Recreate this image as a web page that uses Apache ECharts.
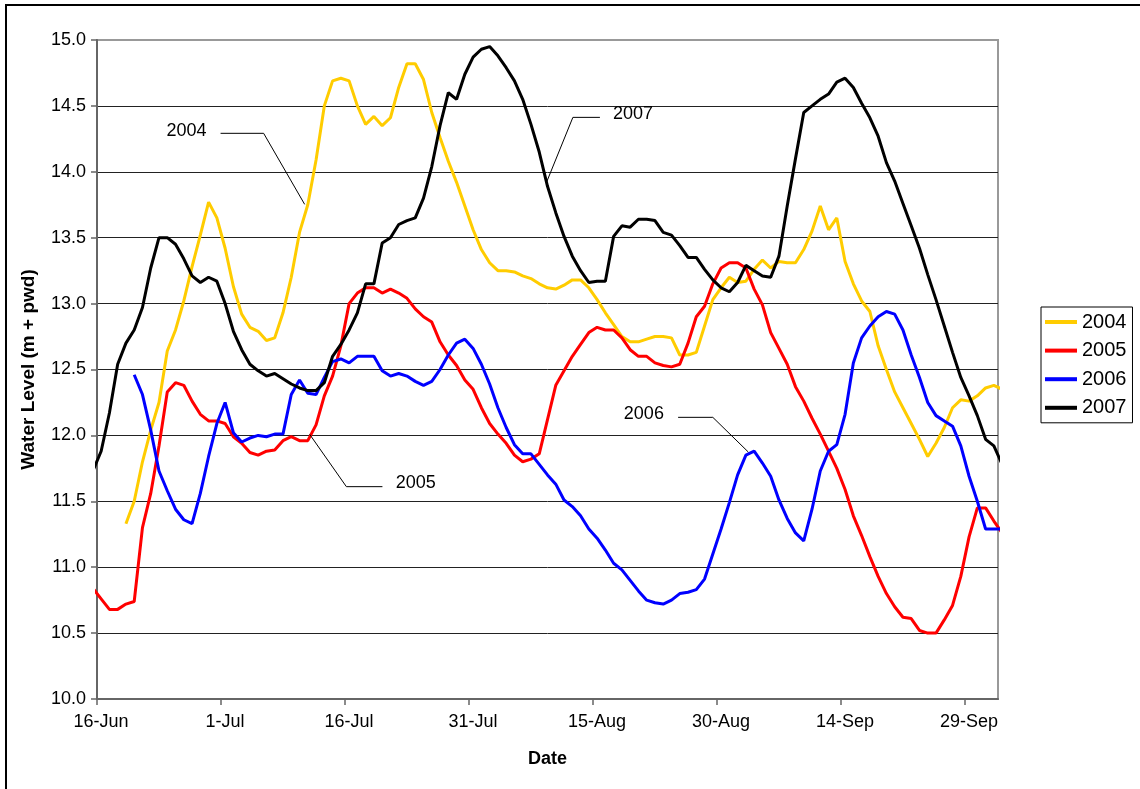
<!DOCTYPE html>
<html>
<head>
<meta charset="utf-8">
<title>Water Level 2004-2007</title>
<script src="https://cdn.jsdelivr.net/npm/echarts@6/dist/echarts.min.js"></script>
<style>
  html, body { margin: 0; padding: 0; background: #fff; }
  #chart { width: 1140px; height: 789px; }
</style>
</head>
<body>
<div id="chart"></div>
<script>
// Daily water levels (m + pwd). Index 0 is the reading of 15-Jun; readings are plotted at midday.
const firstDay = -1;            // 15-Jun, one day before the axis start (16-Jun = day 0)
const axisDays = 109;           // 16-Jun .. 3-Oct
const tickLabels = ['16-Jun', '1-Jul', '16-Jul', '31-Jul', '15-Aug', '30-Aug', '14-Sep', '29-Sep'];
const years = ['2004', '2005', '2006', '2007'];
const colors = ['#FFCC00', '#FF0000', '#0000FF', '#000000'];

const level2004 = [
  null, null, null, null, 11.33, 11.50, 11.80, 12.04, 12.25, 12.64,
  12.80, 13.02, 13.28, 13.52, 13.77, 13.65, 13.42, 13.13, 12.92, 12.82,
  12.79, 12.72, 12.74, 12.93, 13.20, 13.54, 13.75, 14.09, 14.50, 14.69,
  14.71, 14.69, 14.50, 14.36, 14.42, 14.35, 14.41, 14.64, 14.82, 14.82,
  14.70, 14.45, 14.26, 14.08, 13.92, 13.74, 13.56, 13.41, 13.31, 13.25,
  13.25, 13.24, 13.21, 13.19, 13.15, 13.12, 13.11, 13.14, 13.18, 13.18,
  13.12, 13.03, 12.93, 12.84, 12.75, 12.71, 12.71, 12.73, 12.75, 12.75,
  12.74, 12.61, 12.61, 12.63, 12.83, 13.03, 13.12, 13.20, 13.16, 13.17,
  13.26, 13.33, 13.27, 13.32, 13.31, 13.31, 13.41, 13.55, 13.74, 13.56,
  13.65, 13.32, 13.15, 13.02, 12.94, 12.68, 12.50, 12.33, 12.21, 12.09,
  11.97, 11.84, 11.94, 12.06, 12.21, 12.27, 12.26, 12.30, 12.36, 12.38,
  12.35
];

const level2005 = [
  10.84, 10.76, 10.68, 10.68, 10.72, 10.74, 11.30, 11.56, 11.92, 12.33,
  12.40, 12.38, 12.26, 12.16, 12.11, 12.11, 12.09, 11.99, 11.94, 11.87,
  11.85, 11.88, 11.89, 11.96, 11.99, 11.96, 11.96, 12.08, 12.30, 12.45,
  12.68, 13.00, 13.08, 13.12, 13.12, 13.08, 13.11, 13.08, 13.04, 12.96,
  12.90, 12.86, 12.71, 12.61, 12.53, 12.42, 12.35, 12.21, 12.09, 12.01,
  11.94, 11.85, 11.80, 11.82, 11.86, 12.12, 12.38, 12.49, 12.60, 12.69,
  12.78, 12.82, 12.80, 12.80, 12.74, 12.65, 12.60, 12.60, 12.55, 12.53,
  12.52, 12.54, 12.70, 12.90, 12.98, 13.15, 13.27, 13.31, 13.31, 13.27,
  13.11, 12.99, 12.78, 12.66, 12.54, 12.37, 12.26, 12.13, 12.01, 11.88,
  11.75, 11.59, 11.39, 11.24, 11.08, 10.93, 10.80, 10.70, 10.62, 10.61,
  10.52, 10.50, 10.50, 10.60, 10.71, 10.93, 11.23, 11.45, 11.45, 11.35,
  11.26
];

const level2006 = [
  null, null, null, null, null, 12.46, 12.31, 12.04, 11.73, 11.58,
  11.44, 11.36, 11.33, 11.56, 11.84, 12.09, 12.25, 12.02, 11.95, 11.98,
  12.00, 11.99, 12.01, 12.01, 12.31, 12.42, 12.32, 12.31, 12.44, 12.56,
  12.58, 12.55, 12.60, 12.60, 12.60, 12.49, 12.45, 12.47, 12.45, 12.41,
  12.38, 12.41, 12.50, 12.61, 12.70, 12.73, 12.66, 12.54, 12.39, 12.21,
  12.06, 11.93, 11.86, 11.86, 11.78, 11.70, 11.63, 11.51, 11.46, 11.39,
  11.29, 11.22, 11.13, 11.03, 10.98, 10.90, 10.82, 10.75, 10.73, 10.72,
  10.75, 10.80, 10.81, 10.83, 10.91, 11.10, 11.29, 11.49, 11.70, 11.85,
  11.88, 11.79, 11.69, 11.51, 11.37, 11.26, 11.20, 11.44, 11.73, 11.88,
  11.93, 12.16, 12.55, 12.74, 12.83, 12.90, 12.94, 12.92, 12.80, 12.61,
  12.44, 12.25, 12.15, 12.11, 12.07, 11.92, 11.69, 11.50, 11.29, 11.29,
  11.29
];

const level2007 = [
  11.73, 11.88, 12.17, 12.54, 12.70, 12.80, 12.97, 13.27, 13.50, 13.50,
  13.45, 13.34, 13.21, 13.16, 13.20, 13.17, 13.00, 12.79, 12.65, 12.54,
  12.49, 12.45, 12.47, 12.43, 12.39, 12.36, 12.34, 12.34, 12.40, 12.60,
  12.69, 12.80, 12.93, 13.15, 13.15, 13.46, 13.50, 13.60, 13.63, 13.65,
  13.80, 14.04, 14.35, 14.60, 14.55, 14.74, 14.87, 14.93, 14.95, 14.88,
  14.79, 14.69, 14.55, 14.36, 14.15, 13.89, 13.69, 13.51, 13.36, 13.25,
  13.16, 13.17, 13.17, 13.51, 13.59, 13.58, 13.64, 13.64, 13.63, 13.54,
  13.52, 13.44, 13.35, 13.35, 13.26, 13.18, 13.12, 13.09, 13.16, 13.29,
  13.25, 13.21, 13.20, 13.36, 13.74, 14.10, 14.45, 14.50, 14.55, 14.59,
  14.68, 14.71, 14.64, 14.52, 14.41, 14.27, 14.07, 13.93, 13.76, 13.59,
  13.42, 13.22, 13.03, 12.83, 12.63, 12.44, 12.30, 12.15, 11.97, 11.92,
  11.78
];

const levels = [level2004, level2005, level2006, level2007];

// Callout labels with leader lines, in axis units [day, level]
const callouts = [
  { text: '2004', at: [13.26, 14.31], align: 'right', path: [[14.95, 14.292], [20.16, 14.292], [25.12, 13.753]] },
  { text: '2007', at: [62.41, 14.436], align: 'left',  path: [[60.84, 14.413], [57.57, 14.413], [54.38, 13.92]] },
  { text: '2005', at: [36.14, 11.637], align: 'left',  path: [[25.73, 12.008], [30.17, 11.611], [34.53, 11.611]] },
  { text: '2006', at: [68.58, 12.16],  align: 'right', path: [[70.30, 12.137], [74.50, 12.137], [78.79, 11.874]] }
];

const FONT = '"Liberation Sans", Arial, Helvetica, sans-serif';
const tickDays = tickLabels.map((_, i) => i * 15);

const chart = echarts.init(document.getElementById('chart'), null, { renderer: 'canvas' });

const series = years.map((name, k) => ({
  name: name,
  type: 'line',
  data: levels[k].map((v, i) => [firstDay + i + 0.5, v]),
  symbol: 'none',
  showSymbol: false,
  connectNulls: false,
  clip: true,
  lineStyle: { width: 3, color: colors[k] },
  itemStyle: { color: colors[k] },
  emphasis: { disabled: true }
}));

chart.setOption({
  animation: false,
  backgroundColor: '#fff',
  textStyle: { fontFamily: FONT },
  grid: {
    left: 97, top: 40, width: 901, height: 659,
    show: true, borderColor: '#999', borderWidth: 2, backgroundColor: '#fff'
  },
  xAxis: {
    type: 'value',
    min: 0, max: axisDays, interval: 15,
    axisLine: { show: true, onZero: false, lineStyle: { color: '#666', width: 2 } },
    axisTick: { show: true, length: 6, customValues: tickDays, lineStyle: { color: '#666', width: 1.5 } },
    axisLabel: {
      customValues: tickDays,
      formatter: v => tickLabels[Math.round(v / 15)] || '',
      margin: 14, fontSize: 18, color: '#000', fontFamily: FONT,
      padding: [0, 0, 0, 8]
    },
    splitLine: { show: false },
    name: 'Date', nameLocation: 'middle', nameGap: 51,
    nameTextStyle: { fontWeight: 'bold', fontSize: 18, color: '#000', fontFamily: FONT }
  },
  yAxis: {
    type: 'value',
    min: 10, max: 15, interval: 0.5,
    axisLine: { show: true, lineStyle: { color: '#666', width: 2 } },
    axisTick: { show: true, length: 6, lineStyle: { color: '#666', width: 1.5 } },
    axisLabel: { formatter: v => v.toFixed(1), margin: 11, fontSize: 18, color: '#000', fontFamily: FONT },
    splitLine: { show: true, showMinLine: false, showMaxLine: false, lineStyle: { color: '#222', width: 1 } },
    name: 'Water Level (m + pwd)', nameLocation: 'middle', nameGap: 59,
    nameTextStyle: { fontWeight: 'bold', fontSize: 19, color: '#000', fontFamily: FONT }
  },
  legend: {
    orient: 'vertical',
    left: 1041, top: 307,
    padding: [5, 6, 5, 4],
    icon: 'rect',
    itemWidth: 32, itemHeight: 4, itemGap: 8.6,
    borderColor: '#000', borderWidth: 1,
    textStyle: { fontSize: 20, color: '#000', fontFamily: FONT },
    data: years
  },
  series: series
});

// Callouts and the outer chart frame
const px = p => chart.convertToPixel({ gridIndex: 0 }, p);
const graphics = [{
  type: 'rect', silent: true, z: 100,
  shape: { x: 6, y: 5, width: 1400, height: 1000 },
  style: { fill: null, stroke: '#000', lineWidth: 2 }
}];
callouts.forEach(c => {
  const pos = px(c.at);
  graphics.push({
    type: 'text', silent: true, z: 50,
    style: {
      text: c.text, x: pos[0], y: pos[1],
      font: '18px ' + FONT, fill: '#000',
      align: c.align, verticalAlign: 'middle',
      textAlign: c.align, textVerticalAlign: 'middle'
    }
  });
  graphics.push({
    type: 'polyline', silent: true, z: 50,
    shape: { points: c.path.map(px) },
    style: { fill: null, stroke: '#000', lineWidth: 1 }
  });
});
chart.setOption({ graphic: graphics });
</script>
</body>
</html>
